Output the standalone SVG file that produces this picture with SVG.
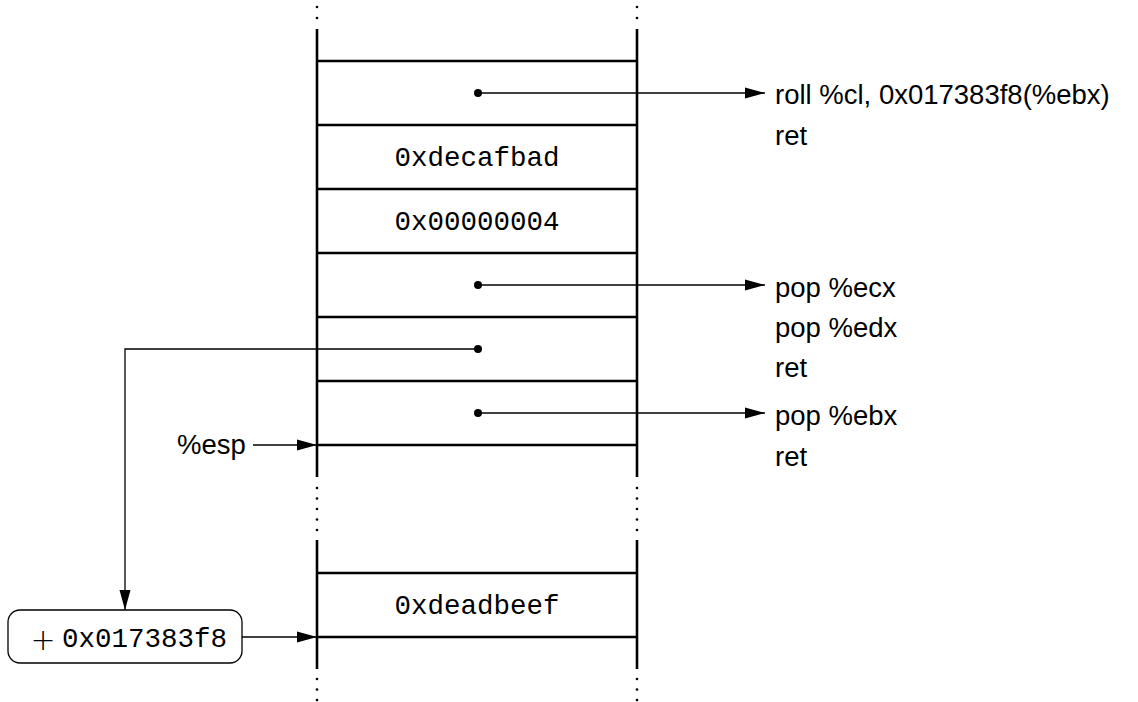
<svg xmlns="http://www.w3.org/2000/svg" width="1138" height="702" viewBox="0 0 1138 702">
<style>
.frame{stroke:#000;stroke-width:2.6;fill:none}
.conn{stroke:#000;stroke-width:1.3;fill:none}
.mono{font-family:"Liberation Mono","DejaVu Sans Mono",monospace;font-size:27.5px;fill:#000}
.sans{font-family:"Liberation Sans","DejaVu Sans",sans-serif;font-size:27.5px;fill:#000}
.dot{fill:#000}
</style>
<defs>
<marker id="ah" markerWidth="20" markerHeight="12" refX="20" refY="6" orient="auto" markerUnits="userSpaceOnUse">
<path d="M0,0.5 L20,6 L0,11.5 Z" fill="#000"/>
</marker>
</defs>
<rect width="1138" height="702" fill="#fff"/>
<g id="stack-top">
<line class="frame" x1="317" y1="29" x2="317" y2="477"/>
<line class="frame" x1="637" y1="29" x2="637" y2="477"/>
<line class="frame" x1="317" y1="61" x2="637" y2="61"/>
<line class="frame" x1="317" y1="125" x2="637" y2="125"/>
<line class="frame" x1="317" y1="189" x2="637" y2="189"/>
<line class="frame" x1="317" y1="253" x2="637" y2="253"/>
<line class="frame" x1="317" y1="317" x2="637" y2="317"/>
<line class="frame" x1="317" y1="381" x2="637" y2="381"/>
<line class="frame" x1="317" y1="445" x2="637" y2="445"/>
<text class="mono" x="477" y="166" text-anchor="middle">0xdecafbad</text>
<text class="mono" x="477" y="230" text-anchor="middle">0x00000004</text>
</g>
<g id="stack-bottom">
<line class="frame" x1="317" y1="540" x2="317" y2="669"/>
<line class="frame" x1="637" y1="540" x2="637" y2="669"/>
<line class="frame" x1="317" y1="573" x2="637" y2="573"/>
<line class="frame" x1="317" y1="637" x2="637" y2="637"/>
<text class="mono" x="477" y="614" text-anchor="middle">0xdeadbeef</text>
</g>
<g id="dots">
<circle class="dot" cx="317" cy="7" r="1.3"/><circle class="dot" cx="317" cy="18" r="1.3"/>
<circle class="dot" cx="637" cy="7" r="1.3"/><circle class="dot" cx="637" cy="18" r="1.3"/>
<circle class="dot" cx="317" cy="488" r="1.3"/><circle class="dot" cx="317" cy="498.5" r="1.3"/><circle class="dot" cx="317" cy="509" r="1.3"/><circle class="dot" cx="317" cy="519.5" r="1.3"/><circle class="dot" cx="317" cy="530" r="1.3"/>
<circle class="dot" cx="637" cy="488" r="1.3"/><circle class="dot" cx="637" cy="498.5" r="1.3"/><circle class="dot" cx="637" cy="509" r="1.3"/><circle class="dot" cx="637" cy="519.5" r="1.3"/><circle class="dot" cx="637" cy="530" r="1.3"/>
<circle class="dot" cx="317" cy="679" r="1.3"/><circle class="dot" cx="317" cy="689.5" r="1.3"/><circle class="dot" cx="317" cy="700" r="1.3"/>
<circle class="dot" cx="637" cy="679" r="1.3"/><circle class="dot" cx="637" cy="689.5" r="1.3"/><circle class="dot" cx="637" cy="700" r="1.3"/>
</g>
<g id="gadget1">
<text class="sans" x="775" y="104">roll %cl, 0x017383f8(%ebx)</text>
<text class="sans" x="775" y="145">ret</text>
</g>
<g id="gadget2">
<text class="sans" x="775" y="297">pop %ecx</text>
<text class="sans" x="775" y="337">pop %edx</text>
<text class="sans" x="775" y="377">ret</text>
</g>
<g id="gadget3">
<text class="sans" x="775" y="425">pop %ebx</text>
<text class="sans" x="775" y="466">ret</text>
</g>
<g id="esp">
<text class="sans" x="177" y="454">%esp</text>
</g>
<g id="offset">
<rect x="8" y="610" width="234" height="53" rx="12" ry="12" fill="#fff" stroke="#000" stroke-width="1.3"/>
<text x="43" y="650" text-anchor="middle" style="font-family:'DejaVu Sans','Liberation Sans',sans-serif;font-size:30px;font-weight:200">+</text>
<text class="mono" x="62" y="647">0x017383f8</text>
</g>
<g id="connectors">
<circle class="dot" cx="478" cy="93" r="4"/>
<line class="conn" x1="478" y1="93" x2="765" y2="93" marker-end="url(#ah)"/>
<circle class="dot" cx="478" cy="285" r="4"/>
<line class="conn" x1="478" y1="285" x2="765" y2="285" marker-end="url(#ah)"/>
<circle class="dot" cx="478" cy="413" r="4"/>
<line class="conn" x1="478" y1="413" x2="765" y2="413" marker-end="url(#ah)"/>
<circle class="dot" cx="478" cy="349" r="4"/>
<polyline class="conn" points="478,349 125,349 125,610" marker-end="url(#ah)"/>
<line class="conn" x1="253" y1="445" x2="317" y2="445" marker-end="url(#ah)"/>
<line class="conn" x1="242" y1="637" x2="317" y2="637" marker-end="url(#ah)"/>
</g>
</svg>
